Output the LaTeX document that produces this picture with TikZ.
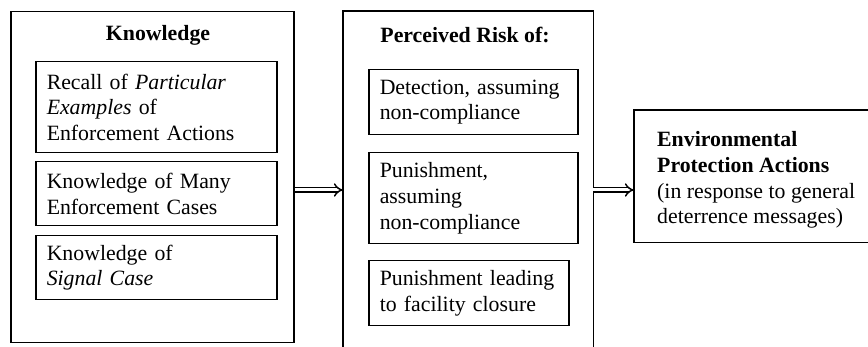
\documentclass[tikz,border=0pt]{standalone}
\usepackage{fontspec}
\setmainfont{Liberation Serif}
\usetikzlibrary{arrows.meta}
\newcommand{\fs}{\fontsize{21.8pt}{25.6pt}\selectfont}
\begin{document}
\begin{tikzpicture}[x=1pt,y=-1pt,
  frame/.style={line width=1.5pt},
  box/.style={draw, line width=1.5pt, inner xsep=11pt, inner ysep=0pt, align=left, anchor=north west, font=\fs},
  ghost/.style={inner sep=0pt, anchor=north west},
  title/.style={font=\fs\bfseries},
  flow/.style={double, double distance=3pt, line width=1.5pt, -{Implies[length=7pt]}},
]
\useasboundingbox (0,0) rectangle (868,347);
% left outer box
\node[draw, frame, ghost, minimum width=283pt, minimum height=331pt] (know) at (10,11) {};
\node[title] (knowt) at (158,35) {Knowledge};
\node[box, minimum width=241pt, minimum height=91pt, text width=219pt] (k1) at (35,61)
  {Recall of \textit{Particular}\\\textit{Examples} of\\Enforcement Actions};
\node[box, minimum width=241pt, minimum height=64pt, text width=219pt] (k2) at (35,161)
  {Knowledge of Many\\Enforcement Cases};
\node[box, minimum width=241pt, minimum height=64pt, text width=219pt] (k3) at (35,235)
  {Knowledge of\\\textit{Signal Case}};
% middle outer box (open at bottom)
\node[ghost, minimum width=250pt, minimum height=336pt] (risk) at (343,11) {};
\draw[frame] (risk.south west) -- (risk.north west) -- (risk.north east) -- (risk.south east);
\node[title] (riskt) at (465,35) {Perceived Risk of:};
\node[box, minimum width=209pt, minimum height=65pt, text width=187pt] (r1) at (368,69)
  {Detection, assuming\\non-compliance};
\node[box, minimum width=209pt, minimum height=91pt, text width=187pt] (r2) at (368,152)
  {Punishment,\\assuming\\non-compliance};
\node[box, minimum width=200pt, minimum height=65pt, text width=178pt, inner ysep=0pt] (r3) at (368,260)
  {Punishment leading\\to facility closure\\[-14pt]};
% right box (open at right)
\node[ghost, minimum width=234pt, minimum height=132pt] (env) at (634,110) {};
\draw[frame] (env.north east) -- (env.north west) -- (env.south west) -- (env.south east);
\node[font=\fs, align=left, anchor=west, inner sep=0pt] (envt) at (657,180)
  {\textbf{Environmental}\\\textbf{Protection Actions}\\(in response to general\\deterrence messages)};
% arrows
\coordinate (ay) at (0,190);
\draw[flow] (know.east |- ay) -- (risk.west |- ay);
\draw[flow] (risk.east |- ay) -- (env.west |- ay);
\end{tikzpicture}
\end{document}
